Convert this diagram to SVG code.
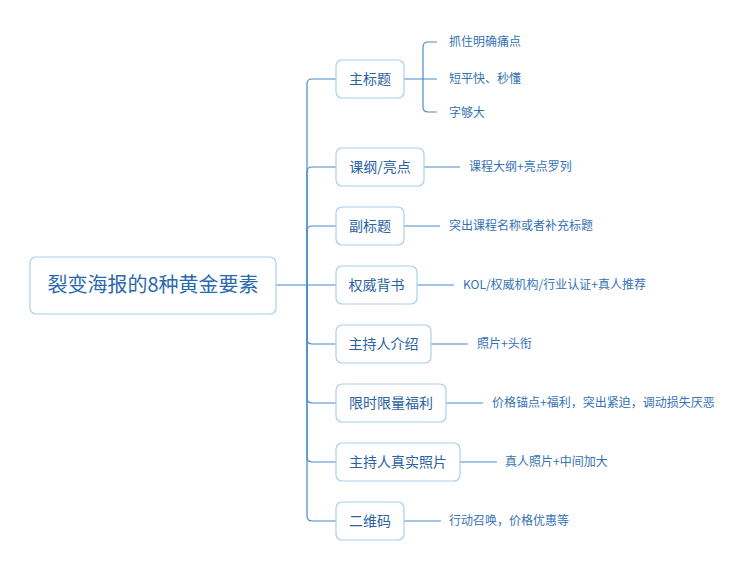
<svg xmlns="http://www.w3.org/2000/svg" width="755" height="571" viewBox="0 0 755 571">
<style>
.box{fill:#fff;stroke:#a9d0ea;stroke-width:1.2}
.trunk{fill:none;stroke:#4b8ad0;stroke-width:1.2}
.leafline{fill:none;stroke:#a4c6e4;stroke-width:2.2}
.root{font-family:"Noto Sans CJK SC","Liberation Sans",sans-serif;font-size:20px;fill:#2a68ae}
.br{font-family:"Noto Sans CJK SC","Liberation Sans",sans-serif;font-size:14px;fill:#2a62a2}
.lf{font-family:"Noto Sans CJK SC","Liberation Sans",sans-serif;font-size:12px;fill:#3672b4}
</style>
<rect width="755" height="571" fill="#fff"/>
<g id="connectors">
<path class="trunk" d="M276,285 H336"/>
<path class="trunk" d="M307,285 V84 Q307,79 312,79 H336"/>
<path class="trunk" d="M307,285 V172 Q307,167 312,167 H336"/>
<path class="trunk" d="M307,285 V231 Q307,226 312,226 H336"/>
<path class="trunk" d="M307,285 V339 Q307,344 312,344 H336"/>
<path class="trunk" d="M307,285 V398 Q307,403 312,403 H336"/>
<path class="trunk" d="M307,285 V457 Q307,462 312,462 H336"/>
<path class="trunk" d="M307,285 V516 Q307,521 312,521 H336"/>
<path class="trunk" d="M404,79 H437"/>
<path class="trunk" d="M423,79 V47 Q423,42 428,42 H437"/>
<path class="trunk" d="M423,79 V107 Q423,112 428,112 H437"/>
<path class="leafline" d="M424,167 H460"/>
<path class="leafline" d="M404,226 H440"/>
<path class="leafline" d="M417,285 H454"/>
<path class="leafline" d="M431,344 H468"/>
<path class="leafline" d="M446,403 H483"/>
<path class="leafline" d="M460,462 H497"/>
<path class="leafline" d="M404,521 H441"/>
</g>
<g id="root">
<rect class="box" x="30" y="257" width="246" height="57" rx="6"/>
<text class="root" x="153" y="292" text-anchor="middle">裂变海报的8种黄金要素</text>
</g>
<g id="n1">
<rect class="box" x="336" y="60" width="68" height="38" rx="6"/>
<text class="br" x="370" y="84" text-anchor="middle">主标题</text>
</g>
<g id="n1a"><text class="lf" x="449" y="46">抓住明确痛点</text></g>
<g id="n1b"><text class="lf" x="449" y="83">短平快、秒懂</text></g>
<g id="n1c"><text class="lf" x="449" y="117">字够大</text></g>
<g id="n2">
<rect class="box" x="336" y="148" width="88" height="38" rx="6"/>
<text class="br" x="380" y="172" text-anchor="middle">课纲/亮点</text>
</g>
<g id="n2a"><text class="lf" x="469" y="171">课程大纲+亮点罗列</text></g>
<g id="n3">
<rect class="box" x="336" y="207" width="68" height="38" rx="6"/>
<text class="br" x="370" y="231" text-anchor="middle">副标题</text>
</g>
<g id="n3a"><text class="lf" x="449" y="230">突出课程名称或者补充标题</text></g>
<g id="n4">
<rect class="box" x="336" y="266" width="81" height="38" rx="6"/>
<text class="br" x="376.5" y="290" text-anchor="middle">权威背书</text>
</g>
<g id="n4a"><text class="lf" x="463" y="289">KOL/权威机构/行业认证+真人推荐</text></g>
<g id="n5">
<rect class="box" x="336" y="325" width="95" height="38" rx="6"/>
<text class="br" x="383.5" y="349" text-anchor="middle">主持人介绍</text>
</g>
<g id="n5a"><text class="lf" x="477" y="348">照片+头衔</text></g>
<g id="n6">
<rect class="box" x="336" y="384" width="110" height="38" rx="6"/>
<text class="br" x="391" y="408" text-anchor="middle">限时限量福利</text>
</g>
<g id="n6a"><text class="lf" x="492" y="407">价格锚点+福利，突出紧迫，调动损失厌恶</text></g>
<g id="n7">
<rect class="box" x="336" y="443" width="124" height="38" rx="6"/>
<text class="br" x="398" y="467" text-anchor="middle">主持人真实照片</text>
</g>
<g id="n7a"><text class="lf" x="505" y="466">真人照片+中间加大</text></g>
<g id="n8">
<rect class="box" x="336" y="502" width="68" height="38" rx="6"/>
<text class="br" x="370" y="526" text-anchor="middle">二维码</text>
</g>
<g id="n8a"><text class="lf" x="449" y="525">行动召唤，价格优惠等</text></g>
</svg>
